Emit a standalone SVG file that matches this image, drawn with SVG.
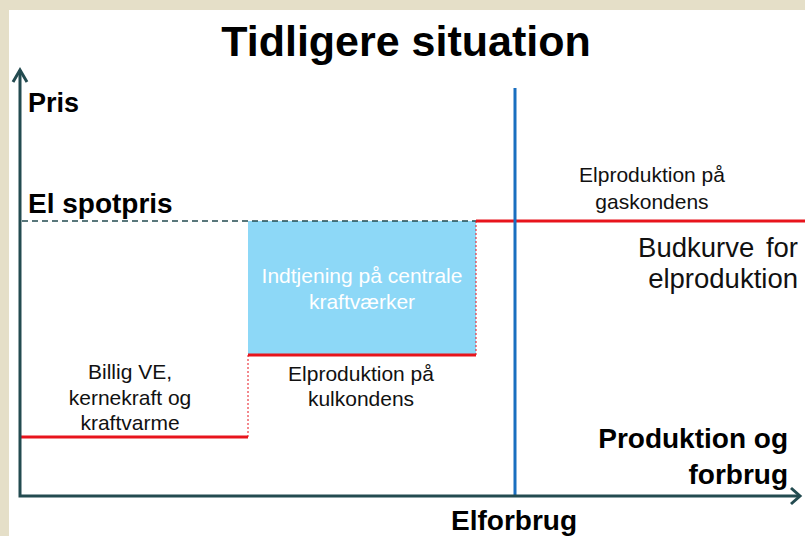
<svg xmlns="http://www.w3.org/2000/svg" width="805" height="536" viewBox="0 0 805 536">
<style>
.b{font-family:"Liberation Sans",Arial,sans-serif;font-weight:bold;fill:#000}
.r{font-family:"Liberation Sans",Arial,sans-serif;fill:#111}
.red{stroke:#e8141c;stroke-width:3;fill:none}
.dot{stroke:#e8141c;stroke-width:1;stroke-dasharray:2 2;fill:none}
.axis{stroke:#234b50;stroke-width:3;fill:none}
</style>
<rect x="0" y="0" width="805" height="536" fill="#e5dfc8"/>
<rect x="9" y="10" width="796" height="526" fill="#ffffff"/>
<text class="b" x="406" y="56" font-size="43" text-anchor="middle">Tidligere situation</text>
<g id="area">
<rect x="248" y="221" width="228" height="134" fill="#8dd8f7"/>
<text class="r" x="362" y="283" font-size="21" text-anchor="middle" style="fill:#fff">Indtjening på centrale</text>
<text class="r" x="362" y="309" font-size="21" text-anchor="middle" style="fill:#fff">kraftværker</text>
</g>
<g id="connectors">
<line x1="22" y1="221" x2="476" y2="221" stroke="#234b50" stroke-width="1.5" stroke-dasharray="6 4"/>
<line class="red" x1="21" y1="437" x2="248" y2="437"/>
<line class="red" x1="248" y1="355" x2="476" y2="355"/>
<line class="red" x1="476" y1="221" x2="805" y2="221"/>
<line class="dot" x1="248" y1="355" x2="248" y2="437"/>
<line class="dot" x1="476" y1="221" x2="476" y2="355"/>
<line x1="515" y1="88" x2="515" y2="497" stroke="#1a6fc0" stroke-width="3"/>
<polyline class="axis" points="20,70 20,496 800,496"/>
<polyline class="axis" points="13,82 20,70 27,82"/>
<polyline class="axis" points="791,488 800,496 791,504"/>
</g>
<text class="b" x="28" y="112" font-size="27">Pris</text>
<text class="b" x="28" y="213" font-size="28">El spotpris</text>
<g id="billig">
<text class="r" x="130" y="379" font-size="21" text-anchor="middle">Billig VE,</text>
<text class="r" x="130" y="405" font-size="21" text-anchor="middle">kernekraft og</text>
<text class="r" x="130" y="430" font-size="21" text-anchor="middle">kraftvarme</text>
</g>
<g id="kul">
<text class="r" x="361" y="381" font-size="21" text-anchor="middle">Elproduktion på</text>
<text class="r" x="361" y="406" font-size="21" text-anchor="middle">kulkondens</text>
</g>
<g id="gas">
<text class="r" x="652" y="182" font-size="21" text-anchor="middle">Elproduktion på</text>
<text class="r" x="652" y="209" font-size="21" text-anchor="middle">gaskondens</text>
</g>
<g id="budkurve">
<text class="r" x="798" y="257" font-size="27.5" text-anchor="end" word-spacing="4">Budkurve for</text>
<text class="r" x="798" y="288" font-size="27.5" text-anchor="end">elproduktion</text>
</g>
<g id="prodforbrug">
<text class="b" x="788" y="448" font-size="28" text-anchor="end">Produktion og</text>
<text class="b" x="788" y="484" font-size="28" text-anchor="end">forbrug</text>
</g>
<text class="b" x="451" y="530" font-size="28">Elforbrug</text>
</svg>
